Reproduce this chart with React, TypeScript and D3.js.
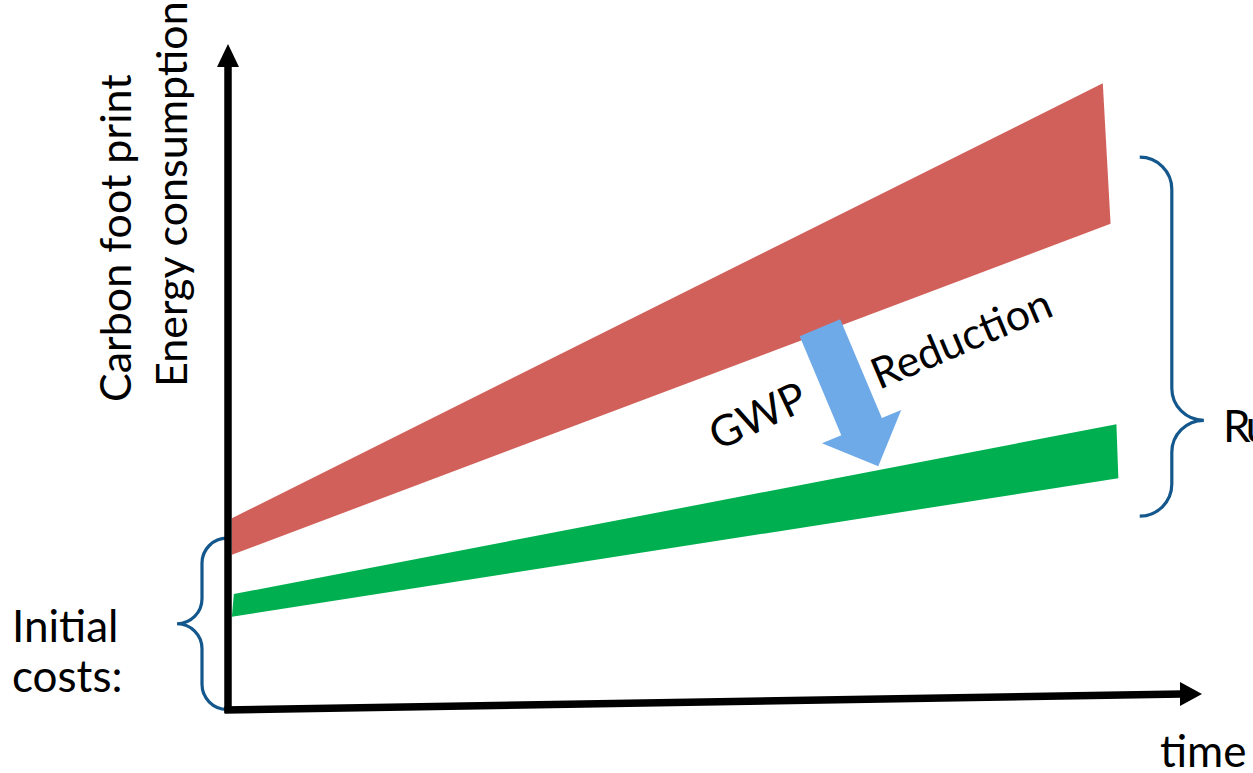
import React from "react";
import * as d3 from "d3";

// ---- data (time units 0..100, value units 0..100) ----
const redUpper = [
  { t: 0.4, v: 28.8 },
  { t: 90.0, v: 94.1 },
];
const redLower = [
  { t: 0.4, v: 23.3 },
  { t: 90.8, v: 73.0 },
];
const greenUpper = [
  { t: 0.6, v: 17.4 },
  { t: 91.4, v: 42.9 },
];
const greenLower = [
  { t: 0.4, v: 14.0 },
  { t: 91.6, v: 34.8 },
];
const reductionArrow = [
  { t: 60.9, v: 57.4 },
  { t: 66.9, v: 36.6 },
];
const initialBrace = { t: 0, v0: 25.8, v1: 0.1 };
const runningBrace = { t: 93.8, v0: 83.0, v1: 29.1, vTip: 43.5, tip: 100.4 };

const yLabels = ["Carbon foot print", "Energy consumption"];
const initialLabel = ["Initial", "costs:"];
const xLabel = "time";
const runLabel = "Ru";
const arrowLabels = ["GWP", "Reduction"];

const W = 1253;
const H = 773;
const FONT = "Lato, 'Open Sans', sans-serif";

export default function App() {
  const x = d3.scaleLinear().domain([0, 100]).range([228, 1200]);
  const y = d3.scaleLinear().domain([0, 100]).range([710, 44]);

  const line = d3
    .line<{ t: number; v: number }>()
    .x((d) => x(d.t))
    .y((d) => y(d.v));

  const band = (upper: { t: number; v: number }[], lower: { t: number; v: number }[]) =>
    line([...upper, ...lower.slice().reverse()]) + "Z";

  // reduction arrow geometry
  const [a0, a1] = reductionArrow;
  const sx = x(a0.t), sy = y(a0.v), ex = x(a1.t), ey = y(a1.v);
  const dx = ex - sx, dy = ey - sy;
  const len = Math.hypot(dx, dy);
  const ux = dx / len, uy = dy / len;
  const px = -uy, py = ux;
  const shaftHalf = 22, headHalf = 43, headLen = 43;
  const bx = ex - ux * headLen, by = ey - uy * headLen;
  const arrowPts = [
    [sx + px * shaftHalf, sy + py * shaftHalf],
    [bx + px * shaftHalf, by + py * shaftHalf],
    [bx + px * headHalf, by + py * headHalf],
    [ex, ey],
    [bx - px * headHalf, by - py * headHalf],
    [bx - px * shaftHalf, by - py * shaftHalf],
    [sx - px * shaftHalf, sy - py * shaftHalf],
  ];
  const arrowPath = "M" + arrowPts.map((p) => p.join(",")).join("L") + "Z";

  // left brace (opens right)
  const lEnd = x(initialBrace.t) - 1;
  const lTipX = lEnd - 50;
  const lMid = lEnd - 25;
  const lTop = y(initialBrace.v0);
  const lBot = y(initialBrace.v1);
  const lTipY = (lTop + lBot) / 2;
  const r = 25;
  const leftBrace = [
    `M${lEnd},${lTop}`,
    `A${r},${r} 0 0 0 ${lMid},${lTop + r}`,
    `L${lMid},${lTipY - r}`,
    `A${r},${r} 0 0 1 ${lTipX},${lTipY}`,
    `A${r},${r} 0 0 1 ${lMid},${lTipY + r}`,
    `L${lMid},${lBot - r}`,
    `A${r},${r} 0 0 0 ${lEnd},${lBot}`,
  ].join(" ");

  // right brace (opens left)
  const rEnd = x(runningBrace.t);
  const rTipX = x(runningBrace.tip);
  const rMid = (rEnd + rTipX) / 2;
  const rr = (rTipX - rEnd) / 2;
  const rTop = y(runningBrace.v0);
  const rBot = y(runningBrace.v1);
  const rTipY = y(runningBrace.vTip);
  const rightBrace = [
    `M${rEnd},${rTop}`,
    `A${rr},${rr} 0 0 1 ${rMid},${rTop + rr}`,
    `L${rMid},${rTipY - rr}`,
    `A${rr},${rr} 0 0 0 ${rTipX},${rTipY}`,
    `A${rr},${rr} 0 0 0 ${rMid},${rTipY + rr}`,
    `L${rMid},${rBot - rr}`,
    `A${rr},${rr} 0 0 1 ${rEnd},${rBot}`,
  ].join(" ");

  // axes
  const ax0 = x(0), ay0 = y(0);
  const yTip = y(100);
  const xTip = x(100) + 2;
  const xTipY = 694;

  const braceColor = "#13578c";
  const fs = 44;

  return (
    <svg
      width={W}
      height={H}
      style={{ position: "absolute", left: 0, top: 0, background: "#fff" }}
      fontFamily={FONT}
    >
      <rect width={W} height={H} fill="#fff" />
      {/* bands */}
      <path d={band(redUpper, redLower)} fill="#d1605a" />
      <path d={band(greenUpper, greenLower)} fill="#00b050" />

      {/* reduction arrow */}
      <path d={arrowPath} fill="#6eaae8" />

      {/* braces */}
      <path d={leftBrace} fill="none" stroke={braceColor} strokeWidth={3.2} />
      <path d={rightBrace} fill="none" stroke={braceColor} strokeWidth={3.2} />

      {/* axes */}
      <line x1={ax0} y1={ay0 + 3} x2={ax0} y2={yTip + 22} stroke="#000" strokeWidth={7.5} />
      <path d={`M${ax0},${yTip} L${ax0 + 11},${yTip + 23} L${ax0 - 11},${yTip + 23}Z`} fill="#000" />
      <line x1={ax0 - 3.5} y1={ay0} x2={xTip - 20} y2={xTipY} stroke="#000" strokeWidth={7.5} />
      <path d={`M${xTip},${xTipY} L${xTip - 22},${xTipY - 12} L${xTip - 22},${xTipY + 12}Z`} fill="#000" />

      {/* y label */}
      <text transform="translate(131,402) rotate(-90)" fontSize={43}>
        {yLabels[0]}
      </text>
      <text transform="translate(187,387) rotate(-90)" fontSize={43}>
        {yLabels[1]}
      </text>

      {/* initial costs */}
      <text x={12} y={642} fontSize={fs}>
        {initialLabel[0]}
      </text>
      <text x={12} y={692} fontSize={fs}>
        {initialLabel[1]}
      </text>

      {/* time */}
      <text x={1160} y={767} fontSize={fs}>
        {xLabel}
      </text>

      {/* Ru (cut by the right edge, as in the reference) */}
      <text x={1223} y={442} fontSize={fs} letterSpacing={-4}>
        {runLabel}
      </text>

      {/* arrow labels */}
      <text transform="translate(718,451) rotate(-25)" fontSize={43}>
        {arrowLabels[0]}
      </text>
      <text transform="translate(879,390) rotate(-23)" fontSize={43}>
        {arrowLabels[1]}
      </text>
    </svg>
  );
}
